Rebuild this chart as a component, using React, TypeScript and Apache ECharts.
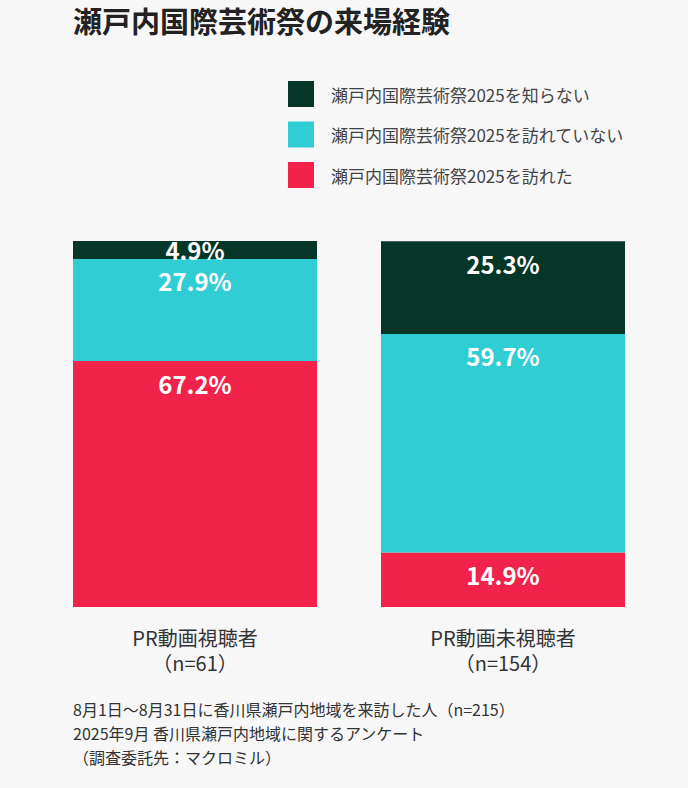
import { useEffect, useRef } from 'react';
import * as echarts from 'echarts';
import type { EChartsOption } from 'echarts';

const categories = ['PR動画視聴者', 'PR動画未視聴者'];
const sampleSizes = [61, 154];
const visited = [67.2, 14.9];
const notVisited = [27.9, 59.7];
const unaware = [4.9, 25.3];

const seriesNames = ['瀬戸内国際芸術祭2025を訪れた', '瀬戸内国際芸術祭2025を訪れていない', '瀬戸内国際芸術祭2025を知らない'];
const seriesColors = ['#f1234b', '#30cdd4', '#053627'];
const footnote = [
  '8月1日～8月31日に香川県瀬戸内地域を来訪した人（n=215）',
  '2025年9月 香川県瀬戸内地域に関するアンケート',
  '（調査委託先：マクロミル）',
];

const FONT = '"Noto Sans CJK JP", "Noto Sans", sans-serif';
const BG = '#f7f7f8';

export default function App() {
  const chartRef = useRef<HTMLDivElement>(null);

  useEffect(() => {
    if (!chartRef.current) return;
    document.body.style.margin = '0';
    document.body.style.background = BG;

    const chart = echarts.init(chartRef.current, undefined, { renderer: 'svg' });

    const makeSeries = (name: string, values: number[], color: string) => ({
      name,
      type: 'bar' as const,
      stack: 'total',
      barWidth: 244,
      itemStyle: { color },
      label: {
        show: true,
        position: 'insideTop' as const,
        distance: 10,
        color: '#fff',
        fontSize: 24,
        fontWeight: 'bold' as const,
        fontFamily: FONT,
        formatter: (p: any) => `${Number(p.value).toFixed(1)}%`,
      },
      // small segments get their label centred instead of pinned to the top
      data: values.map((v) => (v < 10 ? { value: v, label: { position: 'inside' as const } } : v)),
    });

    const option: EChartsOption = {
      animation: false,
      backgroundColor: BG,
      textStyle: { fontFamily: FONT },
      title: {
        text: '瀬戸内国際芸術祭の来場経験',
        left: 73,
        top: 5,
        padding: 0,
        textStyle: { fontSize: 29, fontWeight: 'bold', color: '#222', fontFamily: FONT },
      },
      legend: {
        orient: 'vertical',
        left: 288,
        top: 81,
        padding: 0,
        itemWidth: 26,
        itemHeight: 26,
        itemGap: 14.5,
        icon: 'rect',
        data: [seriesNames[2], seriesNames[1], seriesNames[0]],
        textStyle: { fontSize: 17, color: '#444', fontFamily: FONT, padding: [0, 0, 0, 12] },
      },
      grid: { left: 41, right: 31, top: 241, bottom: 181 },
      xAxis: {
        type: 'category',
        data: categories.map((c, i) => `${c}\n（n=${sampleSizes[i]}）`),
        axisLine: { show: false },
        axisTick: { show: false },
        axisLabel: {
          margin: 18,
          fontSize: 20,
          lineHeight: 25,
          color: '#333',
          fontFamily: FONT,
        },
      },
      yAxis: { type: 'value', min: 0, max: 100, show: false },
      graphic: [
        {
          type: 'text',
          left: 73,
          top: 697,
          style: {
            text: footnote.join('\n'),
            fontSize: 16,
            lineHeight: 24,
            fill: '#333',
            fontFamily: FONT,
          },
        },
      ],
      series: [
        makeSeries(seriesNames[0], visited, seriesColors[0]),
        makeSeries(seriesNames[1], notVisited, seriesColors[1]),
        makeSeries(seriesNames[2], unaware, seriesColors[2]),
      ],
    };

    chart.setOption(option);
    return () => chart.dispose();
  }, []);

  return (
    <div
      ref={chartRef}
      style={{ position: 'absolute', left: 0, top: 0, width: 688, height: 788, background: BG }}
    />
  );
}
